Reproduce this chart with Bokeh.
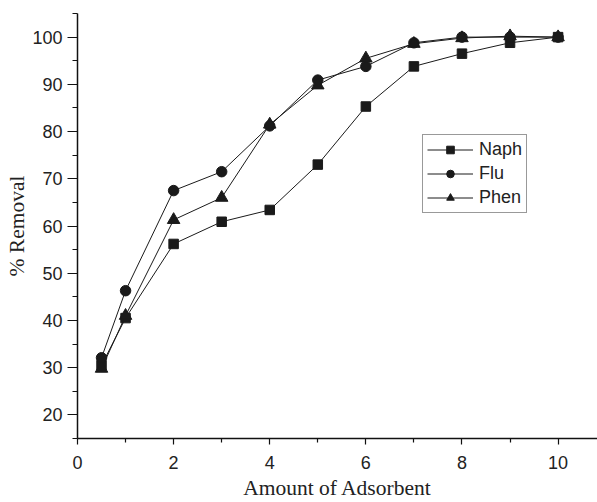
from bokeh.plotting import figure
from bokeh.models import Range1d, FixedTicker, Legend, LegendItem
from bokeh.embed import file_html
from bokeh.resources import INLINE

x_vals = [0.5, 1, 2, 3, 4, 5, 6, 7, 8, 9, 10]
naph = [30.5, 40.5, 56.2, 60.9, 63.4, 73.0, 85.3, 93.8, 96.5, 98.8, 100.0]
flu = [32.1, 46.3, 67.5, 71.5, 81.2, 90.9, 93.8, 98.8, 100.0, 100.0, 100.0]
phen = [29.8, 41.0, 61.3, 66.0, 81.5, 89.8, 95.5, 98.6, 99.8, 100.2, 100.0]

x_major = [0, 2, 4, 6, 8, 10]
x_minor = [1, 3, 5, 7, 9]
y_major = [20, 30, 40, 50, 60, 70, 80, 90, 100]
y_minor = [15, 25, 35, 45, 55, 65, 75, 85, 95, 105]

p = figure(width=597, height=502, output_backend="svg", toolbar_location=None,
           x_range=Range1d(0, 10.82), y_range=Range1d(15, 105),
           min_border_left=77, min_border_right=0, min_border_top=13,
           min_border_bottom=61)
p.outline_line_color = None
p.xgrid.visible = False
p.ygrid.visible = False

for ax in (p.xaxis[0], p.yaxis[0]):
    ax.axis_line_color = "#111111"
    ax.axis_line_width = 1.5
    ax.major_tick_line_color = "#111111"
    ax.minor_tick_line_color = "#111111"
    ax.major_tick_line_width = 1.2
    ax.minor_tick_line_width = 1.2
    ax.major_tick_in = 0
    ax.minor_tick_in = 0
    ax.major_label_text_font = "Liberation Sans"
    ax.major_label_text_font_size = "18px"
    ax.major_label_text_color = "#222222"
    ax.axis_label_text_font = "Liberation Serif"
    ax.axis_label_text_font_size = "21.5px"
    ax.axis_label_text_font_style = "normal"
    ax.axis_label_text_color = "#222222"

p.xaxis.ticker = FixedTicker(ticks=x_major, minor_ticks=x_minor)
p.yaxis.ticker = FixedTicker(ticks=y_major, minor_ticks=y_minor)
p.xaxis.major_tick_out = 6
p.xaxis.minor_tick_out = 4
p.yaxis.major_tick_out = 10
p.yaxis.minor_tick_out = 5
p.xaxis.major_label_standoff = 11
p.yaxis.major_label_standoff = 5
p.xaxis.axis_label = "Amount of Adsorbent"
p.yaxis.axis_label = "% Removal"
p.xaxis.axis_label_standoff = 4
p.yaxis.axis_label_standoff = 0

lc = "#1a1a1a"
l1 = p.line(x_vals, naph, line_color=lc, line_width=1)
s1 = p.scatter(x_vals, naph, marker="square", size=9.5, fill_color=lc, line_color=lc)
l2 = p.line(x_vals, flu, line_color=lc, line_width=1)
s2 = p.scatter(x_vals, flu, marker="circle", size=10.5, fill_color=lc, line_color=lc)
l3 = p.line(x_vals, phen, line_color=lc, line_width=1)
s3 = p.scatter(x_vals, phen, marker="triangle", size=12.5, fill_color=lc, line_color=lc)

legend = Legend(items=[
    LegendItem(label="Naph", renderers=[l1, s1]),
    LegendItem(label="Flu", renderers=[l2, s2]),
    LegendItem(label="Phen", renderers=[l3, s3]),
], location=(345, 225))
legend.label_text_font = "Liberation Sans"
legend.label_text_font_size = "18px"
legend.label_text_color = "#222222"
legend.glyph_width = 46
legend.glyph_height = 19
legend.label_height = 19
legend.label_standoff = 6
legend.spacing = 3
legend.padding = 4
legend.margin = 0
legend.border_line_color = "#333333"
legend.border_line_width = 1
legend.background_fill_color = "white"
legend.background_fill_alpha = 1
p.add_layout(legend, "center")

open("out.html", "w").write(file_html(p, INLINE))
